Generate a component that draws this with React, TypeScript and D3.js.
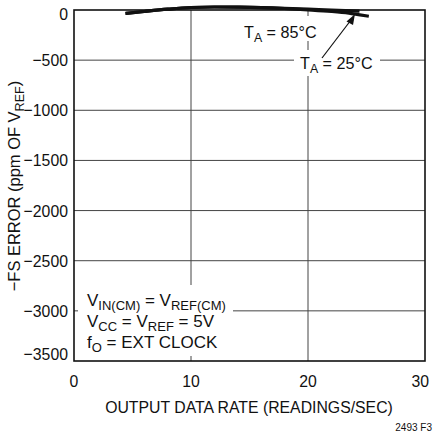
import React from "react";
import * as d3 from "d3";

const xTicks = [0, 10, 20, 30];
const yTicks = [0, -500, -1000, -1500, -2000, -2500, -3000, -3500];

const rate85 = [4.4, 6, 8, 10, 12, 14, 16, 18, 20, 22, 24.4];
const err85 = [-35, -15, 8, 25, 30, 28, 24, 17, 8, -2, -12];

const rate25 = [4.4, 6, 8, 10, 12, 14, 16, 18, 20, 22, 23.5, 24.3, 25.2];
const err25 = [-35, -15, 8, 25, 30, 28, 24, 15, 2, -14, -32, -46, -62];

const FONT = "'Liberation Sans', Arial, sans-serif";

function T(props: { x: number; y: number; sx?: number; anchor?: string; size?: number; children: React.ReactNode }) {
  const { x, y, sx = 0.93, anchor = "start", size = 17, children } = props;
  return (
    <text transform={`translate(${x},${y}) scale(${sx},1)`} textAnchor={anchor} fontSize={size} fill="#111">
      {children}
    </text>
  );
}

export default function App() {
  const W = 433, H = 432;
  const x = d3.scaleLinear().domain([0, 30]).range([74, 425]);
  const y = d3.scaleLinear().domain([0, -3500]).range([10, 361]);
  const p85 = d3.line<number>().curve(d3.curveMonotoneX).x((_, i) => x(rate85[i])).y((d) => y(d))(err85) || "";
  const p25 = d3.line<number>().curve(d3.curveMonotoneX).x((_, i) => x(rate25[i])).y((d) => y(d))(err25) || "";
  const grid = "#444";
  const sub = { fontSize: 13 } as const;
  const yOff = (t: number) => (t === 0 ? 10 : t === -3500 ? -1 : 6);

  return (
    <svg width={W} height={H} style={{ position: "absolute", left: 0, top: 0, background: "#fff" }} fontFamily={FONT}>
      {yTicks.slice(1, -1).map((t) => (
        <line key={"gy" + t} x1={x(0)} x2={x(30)} y1={y(t)} y2={y(t)} stroke={grid} strokeWidth={1} />
      ))}
      {xTicks.slice(1, -1).map((t) => (
        <line key={"gx" + t} x1={x(t)} x2={x(t)} y1={y(0)} y2={y(-3500)} stroke={grid} strokeWidth={1} />
      ))}
      <rect x={241} y={16} width={78} height={25} fill="#fff" />
      <rect x={294} y={50} width={86} height={26} fill="#fff" />
      <rect x={78} y={285} width={155} height={71} fill="#fff" />
      <rect x={x(0)} y={y(0)} width={x(30) - x(0)} height={y(-3500) - y(0)} fill="none" stroke="#111" strokeWidth={1.6} />
      <path d={p25} fill="none" stroke="#111" strokeWidth={3.2} />
      <path d={p85} fill="none" stroke="#111" strokeWidth={3.2} />
      <line x1={322} y1={58} x2={351} y2={20} stroke="#111" strokeWidth={1.2} />
      <path d="M355,14 L346.5,21.5 L353,25 Z" fill="#111" />
      {yTicks.map((t) => (
        <T key={"yl" + t} x={68} y={y(t) + yOff(t)} anchor="end">
          {t === 0 ? "0" : "\u2212" + Math.abs(t)}
        </T>
      ))}
      {xTicks.map((t) => (
        <T key={"xl" + t} x={t === 30 ? 429 : x(t)} y={387} anchor={t === 30 ? "end" : "middle"}>
          {t}
        </T>
      ))}
      <T x={249} y={413} anchor="middle">OUTPUT DATA RATE (READINGS/SEC)</T>
      <text transform="translate(20,186) rotate(-90) scale(0.97,1)" textAnchor="middle" fontSize={17} fill="#111">
        {"\u2212FS ERROR (ppm OF V"}
        <tspan {...sub} dy={4}>REF</tspan>
        <tspan dy={-4}>)</tspan>
      </text>
      <T x={244} y={38} sx={0.95}>
        T<tspan {...sub} dy={4}>A</tspan>
        <tspan dy={-4}> = 85°C</tspan>
      </T>
      <T x={300} y={69} sx={0.95}>
        T<tspan {...sub} dy={4}>A</tspan>
        <tspan dy={-4}> = 25°C</tspan>
      </T>
      <T x={87} y={306} sx={1}>
        V<tspan {...sub} dy={4}>IN(CM)</tspan>
        <tspan dy={-4}> = V</tspan>
        <tspan {...sub} dy={4}>REF(CM)</tspan>
      </T>
      <T x={87} y={327} sx={1}>
        V<tspan {...sub} dy={4}>CC</tspan>
        <tspan dy={-4}> = V</tspan>
        <tspan {...sub} dy={4}>REF</tspan>
        <tspan dy={-4}> = 5V</tspan>
      </T>
      <T x={87} y={348} sx={1}>
        f<tspan {...sub} dy={4}>O</tspan>
        <tspan dy={-4}> = EXT CLOCK</tspan>
      </T>
      <T x={432} y={431} anchor="end" size={10} sx={1}>2493 F3</T>
    </svg>
  );
}
